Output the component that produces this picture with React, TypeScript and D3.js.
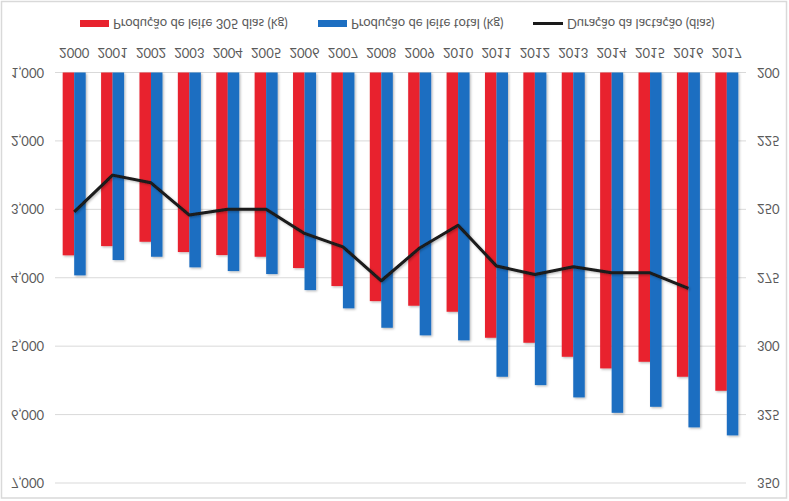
import React from "react";
import * as d3 from "d3";

const years = ["2000","2001","2002","2003","2004","2005","2006","2007","2008","2009","2010","2011","2012","2013","2014","2015","2016","2017"];
const prod305 = [3672,3537,3474,3624,3668,3693,3858,4121,4341,4409,4497,4877,4950,5155,5325,5228,5447,5652];
const prodTotal = [3965,3741,3693,3848,3902,3946,4180,4447,4731,4842,4915,5447,5569,5749,5974,5886,6187,6304];
const duration: (number | null)[] = [250.9,237.5,240.3,252.1,250,250,258.8,263.7,276.1,264.1,255.8,270.7,273.8,271,273.2,273.2,278.9,null];
const leftTicks = [1000,2000,3000,4000,5000,6000,7000];
const rightTicks = [200,225,250,275,300,325,350];
const seriesNames = ["Produção de leite 305 dias (kg)","Produção de leite total (kg)","Duração da lactação (dias)"];

const W = 789, H = 501;
const RED = "#E8222E", BLUE = "#1C6EC1", LINE = "#1a1a1a";
const FONT = "Lato, 'Open Sans', sans-serif";

const FText = ({ x, y, anchor, size, children }: any) => (
  <text
    transform={`translate(${x},${y}) scale(1,-1)`}
    textAnchor={anchor}
    dominantBaseline="central"
    fontFamily={FONT}
    fontSize={size}
    fill="#5a5a5a"
  >
    {children}
  </text>
);

export default function App() {
  const x0 = d3.scaleBand<string>().domain(years).range([55, 746]).paddingInner(0).paddingOuter(0);
  const groupW = 23;
  const x1 = d3.scaleBand<string>().domain(["a", "b"]).range([0, groupW]);
  const off = (x0.bandwidth() - groupW) / 2;
  const yL = d3.scaleLinear().domain([1000, 7000]).range([72.5, 483]);
  const yR = d3.scaleLinear().domain([200, 350]).range([72.5, 483]);
  const line = d3
    .line<number | null>()
    .defined((d) => d != null)
    .x((_, i) => (x0(years[i]) as number) + x0.bandwidth() / 2)
    .y((d) => yR(d as number));
  const fmt = d3.format(",");
  const fs = 13;

  return (
    <svg width={W} height={H} style={{ position: "absolute", left: 0, top: 0, background: "#fff" }}>
      <defs>
        <filter id="sh" x="-50%" y="-50%" width="200%" height="200%">
          <feDropShadow dx="1.2" dy="1.2" stdDeviation="1" floodColor="#000" floodOpacity="0.28" />
        </filter>
      </defs>
      <rect x={0} y={0} width={W} height={H} fill="#fff" />
      <rect x={1.5} y={1.5} width={785} height={496.5} fill="none" stroke="#d9d9d9" strokeWidth={1.5} />
      {leftTicks.map((t) => (
        <line key={t} x1={55} x2={746} y1={yL(t)} y2={yL(t)} stroke="#d9d9d9" strokeWidth={1} />
      ))}
      {leftTicks.map((t) => (
        <FText key={"l" + t} x={44} y={yL(t)} anchor="end" size={fs}>{fmt(t)}</FText>
      ))}
      {rightTicks.map((t) => (
        <FText key={"r" + t} x={757} y={yR(t)} anchor="start" size={fs}>{t}</FText>
      ))}
      {years.map((yr) => (
        <FText key={"x" + yr} x={(x0(yr) as number) + x0.bandwidth() / 2} y={53} anchor="middle" size={fs}>{yr}</FText>
      ))}
      <g filter="url(#sh)">
        {years.map((yr, i) => (
          <g key={"b" + yr}>
            <rect
              x={(x0(yr) as number) + off + (x1("a") as number)}
              width={x1.bandwidth()}
              y={yL(1000)}
              height={yL(prod305[i]) - yL(1000)}
              fill={RED}
            />
            <rect
              x={(x0(yr) as number) + off + (x1("b") as number)}
              width={x1.bandwidth()}
              y={yL(1000)}
              height={yL(prodTotal[i]) - yL(1000)}
              fill={BLUE}
            />
          </g>
        ))}
      </g>
      <path d={line(duration) || ""} fill="none" stroke={LINE} strokeWidth={3} strokeLinejoin="round" filter="url(#sh)" />
      {/* legend */}
      <rect x={80} y={20} width={29} height={7} fill={RED} />
      <FText x={113} y={23.5} anchor="start" size={fs}>{seriesNames[0]}</FText>
      <rect x={318} y={20} width={29} height={7} fill={BLUE} />
      <FText x={351} y={23.5} anchor="start" size={fs}>{seriesNames[1]}</FText>
      <line x1={533} x2={563} y1={23.5} y2={23.5} stroke={LINE} strokeWidth={3} />
      <FText x={567} y={23.5} anchor="start" size={fs}>{seriesNames[2]}</FText>
    </svg>
  );
}
